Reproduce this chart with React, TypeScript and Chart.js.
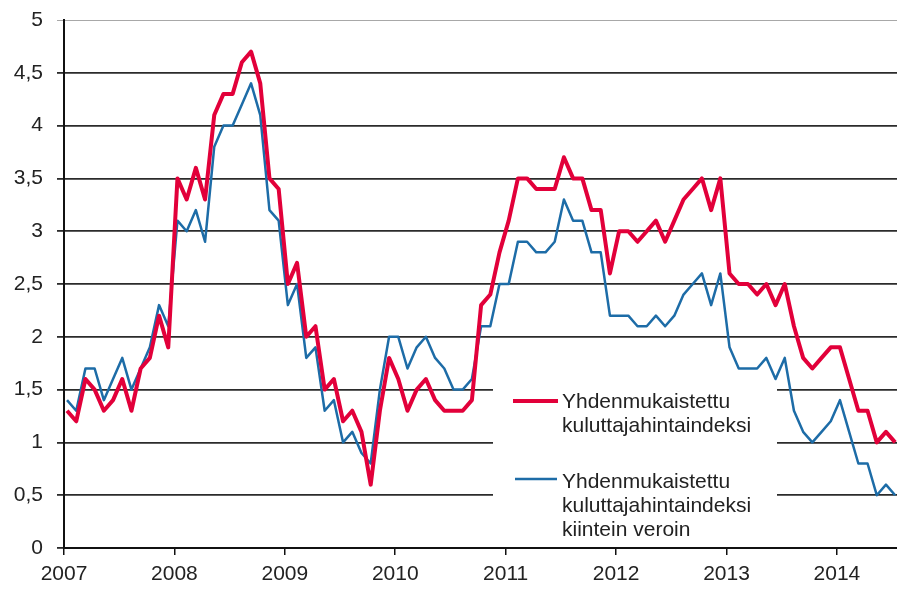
import React, { useEffect, useRef } from 'react';
import { Chart, registerables } from 'chart.js';

Chart.register(...registerables);

// Monthly data, Jan 2007 .. Jul 2014 (annual change, %)
const YEARS = ['2007', '2008', '2009', '2010', '2011', '2012', '2013', '2014'];
const Y_TICKS = ['0', '0,5', '1', '1,5', '2', '2,5', '3', '3,5', '4', '4,5', '5'];

const HICP = [
  1.3, 1.2, 1.6, 1.5, 1.3, 1.4, 1.6, 1.3, 1.7, 1.8, 2.2, 1.9,
  3.5, 3.3, 3.6, 3.3, 4.1, 4.3, 4.3, 4.6, 4.7, 4.4, 3.5, 3.4,
  2.5, 2.7, 2.0, 2.1, 1.5, 1.6, 1.2, 1.3, 1.1, 0.6, 1.3, 1.8,
  1.6, 1.3, 1.5, 1.6, 1.4, 1.3, 1.3, 1.3, 1.4, 2.3, 2.4, 2.8,
  3.1, 3.5, 3.5, 3.4, 3.4, 3.4, 3.7, 3.5, 3.5, 3.2, 3.2, 2.6,
  3.0, 3.0, 2.9, 3.0, 3.1, 2.9, 3.1, 3.3, 3.4, 3.5, 3.2, 3.5,
  2.6, 2.5, 2.5, 2.4, 2.5, 2.3, 2.5, 2.1, 1.8, 1.7, 1.8, 1.9,
  1.9, 1.6, 1.3, 1.3, 1.0, 1.1, 1.0,
];

const HICP_CT = [
  1.4, 1.3, 1.7, 1.7, 1.4, 1.6, 1.8, 1.5, 1.7, 1.9, 2.3, 2.1,
  3.1, 3.0, 3.2, 2.9, 3.8, 4.0, 4.0, 4.2, 4.4, 4.1, 3.2, 3.1,
  2.3, 2.5, 1.8, 1.9, 1.3, 1.4, 1.0, 1.1, 0.9, 0.8, 1.5, 2.0,
  2.0, 1.7, 1.9, 2.0, 1.8, 1.7, 1.5, 1.5, 1.6, 2.1, 2.1, 2.5,
  2.5, 2.9, 2.9, 2.8, 2.8, 2.9, 3.3, 3.1, 3.1, 2.8, 2.8, 2.2,
  2.2, 2.2, 2.1, 2.1, 2.2, 2.1, 2.2, 2.4, 2.5, 2.6, 2.3, 2.6,
  1.9, 1.7, 1.7, 1.7, 1.8, 1.6, 1.8, 1.3, 1.1, 1.0, 1.1, 1.2,
  1.4, 1.1, 0.8, 0.8, 0.5, 0.6, 0.5,
];

const LABEL_HICP = ['Yhdenmukaistettu', 'kuluttajahintaindeksi'];
const LABEL_HICP_CT = ['Yhdenmukaistettu', 'kuluttajahintaindeksi', 'kiintein veroin'];

const FONT = '"Liberation Sans", Arial, Helvetica, sans-serif';
const RED = '#e2003a';
const BLUE = '#1d6ca7';
const TEXT = '#222222';
const GRID = '#2b2b2b';
const X_SHIFT = -0.33; // year ticks sit slightly left of January points

const boxLegend = {
  id: 'boxLegend',
  beforeDatasetsDraw(chart: any) {
    const { ctx } = chart;
    ctx.save();
    ctx.fillStyle = '#ffffff';
    ctx.fillRect(493, 374, 284, 168);
    ctx.restore();
  },
  afterDatasetsDraw(chart: any) {
    const { ctx } = chart;
    ctx.save();
    const items = [
      { lines: LABEL_HICP, color: RED, width: 4, y0: 408, sy: 401, x1: 513, x2: 558 },
      { lines: LABEL_HICP_CT, color: BLUE, width: 2.5, y0: 488, sy: 479, x1: 515, x2: 557 },
    ];
    ctx.font = `21px ${FONT}`;
    ctx.textBaseline = 'alphabetic';
    ctx.textAlign = 'left';
    for (const it of items) {
      ctx.strokeStyle = it.color;
      ctx.lineWidth = it.width;
      ctx.lineCap = 'butt';
      ctx.beginPath();
      ctx.moveTo(it.x1, it.sy);
      ctx.lineTo(it.x2, it.sy);
      ctx.stroke();
      ctx.fillStyle = TEXT;
      it.lines.forEach((t, i) => ctx.fillText(t, 562, it.y0 + i * 24));
    }
    ctx.restore();
  },
};

export default function App() {
  const ref = useRef<HTMLCanvasElement | null>(null);

  useEffect(() => {
    document.body.style.margin = '0';
    const canvas = ref.current;
    if (!canvas) return;
    const chart = new Chart(canvas, {
      type: 'line',
      data: {
        datasets: [
          {
            label: LABEL_HICP.join(' '),
            data: HICP.map((v, i) => ({ x: i, y: v })),
            borderColor: RED,
            borderWidth: 4,
            pointRadius: 0,
            tension: 0,
            borderJoinStyle: 'round',
          },
          {
            label: LABEL_HICP_CT.join(' '),
            data: HICP_CT.map((v, i) => ({ x: i, y: v })),
            borderColor: BLUE,
            borderWidth: 2.5,
            pointRadius: 0,
            tension: 0,
            borderJoinStyle: 'round',
          },
        ],
      },
      options: {
        animation: false,
        responsive: false,
        maintainAspectRatio: false,
        layout: { padding: { top: 20, right: 0, left: 0, bottom: 0 } },
        plugins: {
          legend: { display: false },
          tooltip: { enabled: false },
        },
        scales: {
          x: {
            type: 'linear',
            min: X_SHIFT,
            max: 90.2,
            afterBuildTicks: (scale: any) => {
              scale.ticks = YEARS.map((_, k) => ({ value: k * 12 + X_SHIFT }));
            },
            afterFit: (scale: any) => {
              scale.height = 41;
              scale.paddingLeft = 0;
              scale.paddingRight = 0;
            },
            ticks: {
              autoSkip: false,
              maxRotation: 0,
              padding: 7,
              color: TEXT,
              font: { family: FONT, size: 21 },
              callback: (_v: any, idx: number) => YEARS[idx],
            },
            grid: {
              drawOnChartArea: false,
              drawTicks: true,
              tickLength: 7,
              color: '#111',
              lineWidth: 1.5,
            },
            border: { display: true, color: '#111', width: 2 },
          },
          y: {
            min: 0,
            max: 5,
            afterBuildTicks: (scale: any) => {
              scale.ticks = Y_TICKS.map((_, k) => ({ value: k * 0.5 }));
            },
            afterFit: (scale: any) => {
              scale.width = 64;
              scale.paddingTop = 0;
              scale.paddingBottom = 0;
            },
            ticks: {
              padding: 14,
              color: TEXT,
              font: { family: FONT, size: 21 },
              callback: (_v: any, idx: number) => Y_TICKS[idx],
            },
            grid: {
              drawTicks: true,
              tickLength: 7,
              color: (c: any) => (c.tick && c.tick.value === 5 ? '#a8a8a8' : GRID),
              lineWidth: (c: any) => (c.tick && c.tick.value === 5 ? 1 : 1.8),
            },
            border: { display: true, color: '#111', width: 2 },
          },
        },
      },
      plugins: [boxLegend],
    } as any);
    return () => chart.destroy();
  }, []);

  return (
    <div style={{ position: 'absolute', left: 0, top: 0, width: 897, height: 589, background: '#fff' }}>
      <canvas ref={ref} width={897} height={589} style={{ display: 'block' }} />
    </div>
  );
}
